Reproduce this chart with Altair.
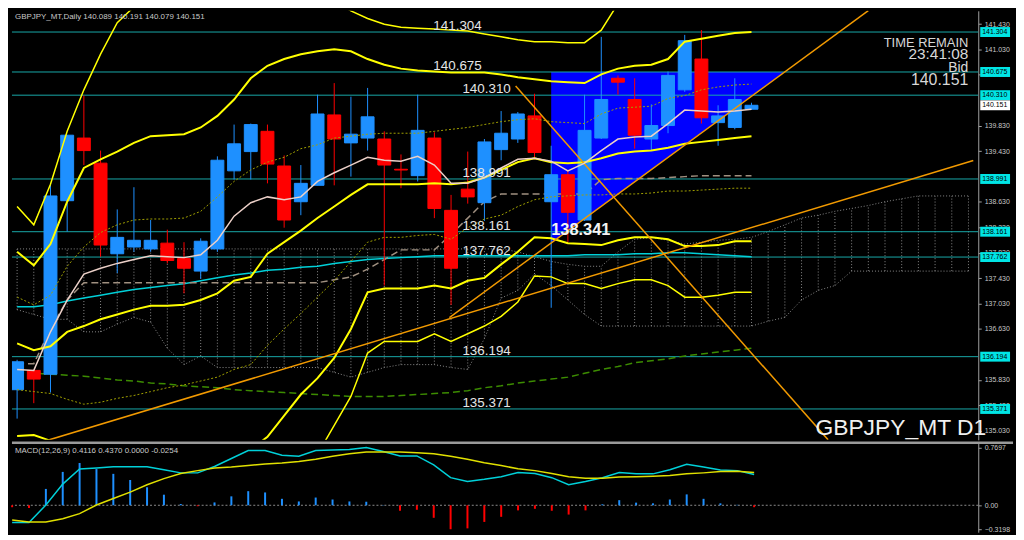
import altair as alt
import pandas as pd

W = 973
H1 = 432
H2 = 90
LBL = "Liberation Sans"

# ---------------- candles (daily GBPJPY) ----------------
opens = [135.674, 135.978, 135.917, 138.649, 139.635, 139.240, 137.814, 137.920, 137.890, 137.981,
         137.738, 137.541, 137.890, 139.119, 139.422, 139.741, 139.195, 138.633, 138.891, 139.999,
         139.559, 139.635, 139.620, 139.144, 139.043, 139.635, 138.497, 138.831, 138.618, 139.453,
         139.620, 139.984, 138.633, 139.058, 138.345, 139.635, 140.576, 140.242, 139.620, 139.832,
         140.394, 140.879, 139.878, 139.802, 140.089]
highs = [136.145, 135.978, 138.907, 139.680, 140.303, 139.438, 138.512, 138.861, 138.345, 138.193,
         137.996, 138.057, 139.347, 139.847, 139.863, 139.847, 139.362, 139.210, 140.318, 140.500,
         140.287, 140.424, 139.741, 139.377, 140.318, 139.726, 138.740, 139.422, 139.620, 140.060,
         140.045, 140.333, 139.514, 139.134, 140.318, 141.228, 140.621, 140.576, 140.166, 140.682,
         141.259, 141.335, 140.151, 140.576, 140.191]
lows = [135.219, 135.462, 135.629, 138.163, 139.210, 137.768, 137.510, 137.844, 137.844, 137.662,
        137.192, 137.419, 137.844, 138.982, 138.982, 138.922, 138.224, 138.421, 138.891, 138.891,
        139.028, 139.438, 137.313, 138.846, 138.952, 138.375, 137.010, 138.603, 138.330, 139.286,
        139.559, 139.331, 136.964, 137.996, 138.330, 139.620, 140.318, 139.468, 139.438, 139.711,
        140.363, 139.863, 139.514, 139.772, 140.079]
closes = [136.114, 135.841, 138.724, 139.680, 139.438, 137.951, 138.072, 138.026, 138.026, 137.708,
          137.586, 138.011, 139.286, 139.544, 139.847, 139.225, 138.345, 138.922, 140.014, 139.620,
          139.696, 139.969, 139.210, 139.132, 139.756, 138.527, 137.586, 138.709, 139.574, 139.711,
          140.014, 139.407, 139.058, 138.466, 139.756, 140.242, 140.515, 139.680, 139.832, 140.621,
          141.168, 139.954, 139.984, 140.242, 140.151]

# ---------------- Bollinger bands ----------------
bb_mid = [136.403, 136.297, 136.357, 136.584, 136.676, 136.782, 136.858, 136.934, 136.995, 136.995,
          137.010, 137.086, 137.191, 137.389, 137.450, 137.814, 137.996, 138.178, 138.376, 138.557,
          138.740, 138.907, 138.907, 138.907, 138.907, 138.922, 138.907, 138.937, 139.012, 139.134,
          139.256, 139.316, 139.256, 139.240, 139.256, 139.316, 139.392, 139.423, 139.438, 139.483,
          139.544, 139.575, 139.605, 139.635, 139.665]
bb_up1 = [137.132, 137.010, 137.162, 137.617, 137.920, 138.148, 138.270, 138.345, 138.361, 138.361,
          138.376, 138.482, 138.710, 138.953, 139.134, 139.256, 139.332, 139.468, 139.529, 139.635,
          139.665, 139.695, 139.711, 139.711, 139.711, 139.741, 139.772, 139.802, 139.848, 139.893,
          139.924, 139.939, 139.893, 139.878, 139.863, 140.015, 140.106, 140.121, 140.136, 140.258,
          140.303, 140.394, 140.440, 140.470, 140.485]
bb_dn1 = [135.674, 135.644, 135.614, 135.522, 135.446, 135.477, 135.538, 135.583, 135.644, 135.705,
          135.750, 135.811, 135.872, 135.993, 136.069, 136.373, 136.630, 136.873, 137.132, 137.389,
          137.693, 137.996, 138.072, 138.072, 138.102, 138.118, 138.042, 138.224, 138.361, 138.421,
          138.557, 138.664, 138.710, 138.725, 138.740, 138.740, 138.755, 138.755, 138.770, 138.801,
          138.801, 138.816, 138.831, 138.846, 138.846]
bb_up2 = [137.844, 137.632, 137.966, 138.633, 139.164, 139.301, 139.423, 139.560, 139.665, 139.680,
          139.695, 139.802, 139.984, 140.242, 140.576, 140.773, 140.879, 140.955, 141.001, 141.031,
          141.001, 140.879, 140.788, 140.728, 140.698, 140.682, 140.667, 140.667, 140.667, 140.637,
          140.591, 140.561, 140.530, 140.515, 140.500, 140.637, 140.728, 140.773, 140.788, 140.879,
          141.152, 141.198, 141.244, 141.289, 141.304]
bb_dn2 = [134.946, 134.961, 134.870, 134.582, 134.354, 134.202, 134.202, 134.233, 134.294, 134.415,
          134.491, 134.536, 134.567, 134.628, 134.734, 134.931, 135.265, 135.598, 135.856, 136.175,
          136.630, 137.207, 137.268, 137.268, 137.268, 137.313, 137.268, 137.389, 137.434, 137.647,
          137.844, 138.072, 138.057, 137.981, 137.966, 137.950, 138.026, 138.072, 138.072, 138.042,
          137.935, 137.935, 137.950, 138.011, 138.011]
bb_up3 = [138.557, 138.269, 138.907, 139.741, 140.394, 140.955, 141.450, 141.700, 141.714, 141.714,
          141.714, 141.866, 142.093, 142.245, 142.245, 142.169, 142.093, 142.048, 141.911, 141.790,
          141.638, 141.517, 141.426, 141.380, 141.365, 141.350, 141.334, 141.319, 141.274, 141.228,
          141.183, 141.152, 141.152, 141.137, 141.137, 141.334, 141.750, 141.800, 141.850, 141.905,
          141.920, 142.033, 142.108, 142.139, 142.124]
bb_dn3 = [134.217, 134.339, 134.127, 133.595, 133.292, 133.140, 133.140, 133.140, 133.216, 133.292,
          133.368, 133.444, 133.444, 133.520, 133.625, 133.777, 134.127, 134.384, 134.658, 135.113,
          135.568, 136.251, 136.433, 136.433, 136.433, 136.554, 136.433, 136.554, 136.676, 136.828,
          137.055, 137.465, 137.450, 137.344, 137.344, 137.268, 137.344, 137.404, 137.404, 137.313,
          137.131, 137.131, 137.162, 137.207, 137.207]

# ---------------- moving averages ----------------
ma_fast = [135.993, 135.978, 136.585, 137.085, 137.495, 137.586, 137.662, 137.723, 137.784, 137.768,
           137.753, 137.799, 138.026, 138.406, 138.618, 138.709, 138.664, 138.709, 138.952, 139.089,
           139.210, 139.331, 139.286, 139.271, 139.347, 139.210, 138.922, 138.922, 139.013, 139.164,
           139.301, 139.316, 139.271, 139.119, 139.240, 139.438, 139.620, 139.650, 139.665, 139.863,
           140.075, 140.060, 140.045, 140.060, 140.090]
ma_mid = [136.979, 136.979, 137.010, 137.070, 137.116, 137.161, 137.207, 137.252, 137.283, 137.313,
          137.343, 137.389, 137.435, 137.480, 137.510, 137.556, 137.571, 137.602, 137.617, 137.662,
          137.692, 137.723, 137.738, 137.753, 137.768, 137.784, 137.784, 137.784, 137.784, 137.784,
          137.784, 137.784, 137.784, 137.784, 137.799, 137.799, 137.799, 137.814, 137.814, 137.829,
          137.829, 137.814, 137.799, 137.784, 137.768]
ma_long = [135.947, 135.932, 135.917, 135.902, 135.887, 135.856, 135.826, 135.811, 135.780, 135.765,
           135.735, 135.720, 135.705, 135.674, 135.659, 135.644, 135.629, 135.614, 135.598, 135.583,
           135.568, 135.568, 135.568, 135.583, 135.598, 135.614, 135.629, 135.659, 135.705, 135.735,
           135.780, 135.811, 135.841, 135.872, 135.932, 135.993, 136.038, 136.099, 136.130, 136.160,
           136.205, 136.236, 136.266, 136.296, 136.327]
kijun = [136.084, 136.084, 136.630, 137.085, 137.359, 137.359, 137.359, 137.359, 137.359, 137.359,
         137.359, 137.359, 137.359, 137.359, 137.359, 137.359, 137.359, 137.359, 137.359, 137.404,
         137.450, 137.571, 137.723, 137.875, 137.875, 137.875, 138.117, 138.375, 138.633, 138.755,
         138.755, 138.755, 138.755, 138.755, 138.755, 138.982, 138.998, 138.998, 138.998, 139.013,
         139.028, 139.043, 139.043, 139.043, 139.043]

# ---------------- Ichimoku cloud (runs 13 bars ahead of the last candle) ----------------
span_a = [136.934, 136.858, 136.782, 136.782, 136.585, 136.585, 136.706, 136.812, 136.737, 136.327,
          136.069, 136.205, 136.023, 136.023, 136.023, 136.023, 136.023, 136.023, 136.023, 135.947,
          135.872, 135.947, 136.023, 136.069, 136.069, 136.069, 136.023, 135.993, 136.479, 137.116,
          137.237, 137.495, 137.313, 137.086, 136.858, 136.676, 136.676, 136.676, 136.676, 136.676,
          136.676, 136.676, 136.676, 136.676, 136.676, 136.752, 136.812, 137.086, 137.237, 137.313,
          137.541, 137.541, 137.541, 137.541, 137.541, 137.541, 137.541, 137.541]
span_b = [137.890, 137.890, 137.890, 137.890, 137.890, 137.890, 137.890, 137.890, 137.890, 137.890,
          137.890, 137.890, 137.890, 137.890, 137.890, 137.890, 137.890, 137.890, 137.890, 137.890,
          137.890, 137.890, 137.890, 137.890, 137.890, 137.890, 137.890, 137.890, 137.890, 137.890,
          137.844, 137.768, 137.693, 137.647, 137.617, 137.617, 137.844, 138.042, 138.072, 138.026,
          137.966, 137.996, 138.026, 138.042, 138.072, 138.163, 138.269, 138.376, 138.421, 138.482,
          138.527, 138.573, 138.633, 138.679, 138.724, 138.724, 138.724, 138.724]

# ---------------- MACD(12,26,9) ----------------
macd_main = [-0.231, -0.231, 0.004, 0.282, 0.483, 0.496, 0.513, 0.513, 0.513, 0.474,
             0.432, 0.432, 0.517, 0.624, 0.731, 0.731, 0.667, 0.654, 0.731, 0.737,
             0.744, 0.7697, 0.718, 0.658, 0.658, 0.538, 0.368, 0.317, 0.346, 0.381,
             0.436, 0.423, 0.368, 0.273, 0.317, 0.368, 0.436, 0.419, 0.419, 0.474,
             0.547, 0.509, 0.471, 0.462, 0.4116]
macd_signal = [-0.196, -0.222, -0.222, -0.179, -0.112, 0.004, 0.090, 0.176, 0.273, 0.355,
               0.423, 0.462, 0.496, 0.509, 0.529, 0.551, 0.564, 0.583, 0.615, 0.654,
               0.686, 0.709, 0.709, 0.709, 0.701, 0.688, 0.654, 0.615, 0.568, 0.529,
               0.487, 0.462, 0.423, 0.381, 0.359, 0.359, 0.376, 0.381, 0.388, 0.397,
               0.419, 0.432, 0.449, 0.453, 0.4370]
macd_hist = [-0.026, -0.038, 0.218, 0.445, 0.564, 0.483, 0.419, 0.337, 0.240, 0.141,
             0.017, -0.013, 0.038, 0.119, 0.188, 0.171, 0.086, 0.051, 0.103, 0.077,
             0.051, 0.047, 0.004, -0.073, -0.060, -0.167, -0.3198, -0.308, -0.222, -0.154,
             -0.068, -0.047, -0.073, -0.124, -0.068, 0.013, 0.068, 0.035, 0.026, 0.077,
             0.145, 0.086, 0.026, 0.006, -0.0254]

# ---------------- levels, drawings, ticks ----------------
levels = [141.304, 140.675, 140.310, 138.991, 138.161, 137.762, 136.194, 135.371]
bid = 140.151
triangle_x = [32.0, 46.0]
triangle_top = [140.675, 140.675]
triangle_bottom = [137.98, 140.675]
trend_names = ["up", "up", "base", "base", "down", "down"]
trend_x = [25.9, 51.0, 1.93, 57.29, 29.87, 48.59]
trend_y = [136.81, 141.64, 134.885, 139.281, 140.454, 134.885]
low_mark_x = [32.0]
low_mark_y = [138.19]
low_mark_text = ["138.341"]
# tick labels that are not fully hidden behind the level tags
price_ticks = [135.030, 135.430, 135.830, 136.630, 137.030, 137.430, 137.830, 138.230,
               138.630, 139.430, 139.830, 140.630, 141.030, 141.430]
macd_ticks = [-0.3198, 0.0, 0.7697]

# ---------------- frames ----------------
n = len(opens)
idx = list(range(n))
cdf = pd.DataFrame({"i": idx, "open": opens, "high": highs, "low": lows, "close": closes})
cdf["dir"] = ["up" if c >= o else "down" for o, c in zip(opens, closes)]
ind = pd.DataFrame({"i": idx, "mid": bb_mid, "up1": bb_up1, "dn1": bb_dn1, "up2": bb_up2,
                    "dn2": bb_dn2, "up3": bb_up3, "dn3": bb_dn3, "fast": ma_fast,
                    "ma": ma_mid, "long": ma_long, "kijun": kijun})
cloud = pd.DataFrame({"i": list(range(len(span_a))), "a": span_a, "b": span_b})
lvl = pd.DataFrame({"level": levels, "text": [f"{v:.3f}" for v in levels]})
lvl["lx"] = [24.94 if v > 140.5 else 26.68 for v in levels]
tri = pd.DataFrame({"x": triangle_x, "top": triangle_top, "bot": triangle_bottom})
trends = pd.DataFrame({"g": trend_names, "x": trend_x, "y": trend_y})
lowmark = pd.DataFrame({"x": low_mark_x, "y": low_mark_y, "t": low_mark_text})
bid_df = pd.DataFrame({"level": [bid], "text": [f"{bid:.3f}"]})
mdf = pd.DataFrame({"i": idx, "main": macd_main, "signal": macd_signal, "hist": macd_hist})
mdf["sign"] = ["pos" if h >= 0 else "neg" for h in macd_hist]

xs = alt.Scale(domain=[-0.01, 57.29], nice=False, zero=False)
ys = alt.Scale(domain=[134.885, 141.638], nice=False, zero=False)
ms = alt.Scale(domain=[-0.359, 0.833], nice=False, zero=False)

yaxis = alt.Axis(orient="right", values=price_ticks, format=".3f", title=None, grid=False,
                 labelColor="#c8c8c8", labelFont=LBL, labelFontSize=7, tickColor="#a0a0a0",
                 tickSize=3, domainColor="#a0a0a0", labelPadding=3, labelOverlap=False,
                 labelFlush=False)
maxis = alt.Axis(orient="right", values=macd_ticks, title=None, grid=False,
                 labelExpr="datum.value == 0 ? '0.00' : format(datum.value, '.4f')",
                 labelColor="#c8c8c8", labelFont=LBL, labelFontSize=7, tickColor="#a0a0a0",
                 tickSize=3, domainColor="#a0a0a0", labelPadding=3, labelOverlap=False,
                 labelFlush=False)


def X(f):
    return alt.X(f"{f}:Q", scale=xs, axis=None)


def Y(f):
    return alt.Y(f"{f}:Q", scale=ys, axis=yaxis)


def ind_line(field, color, width, dash=None):
    kw = dict(color=color, strokeWidth=width, clip=True)
    if dash:
        kw["strokeDash"] = dash
    return alt.Chart(ind).mark_line(**kw).encode(x=X("i"), y=Y(field))


def note(txt, x, y, size, align="right", color="#d8d8d8", weight="normal"):
    return alt.Chart(pd.DataFrame({"t": [txt]})).mark_text(
        align=align, baseline="middle", fontSize=size, color=color, font=LBL,
        fontWeight=weight).encode(x=alt.value(x), y=alt.value(y), text="t:N")


cscale = alt.Scale(domain=["up", "down"], range=["#1e90ff", "#ff0000"])

triangle = alt.Chart(tri).mark_area(color="#0000ff", opacity=1).encode(
    x=X("x"), y=Y("top"), y2="bot")
hatch = alt.Chart(cloud).mark_rule(color="#8a8a8a", strokeDash=[1, 2], strokeWidth=1).encode(
    x=X("i"), y=Y("a"), y2="b")
cloud_a = alt.Chart(cloud).mark_line(color="#8a8a8a", strokeDash=[1, 2], strokeWidth=1).encode(
    x=X("i"), y=Y("a"))
cloud_b = alt.Chart(cloud).mark_line(color="#8a8a8a", strokeDash=[1, 2], strokeWidth=1).encode(
    x=X("i"), y=Y("b"))
level_rules = alt.Chart(lvl).mark_rule(color="#18a8a8", strokeWidth=1).encode(y=Y("level"))

wicks = alt.Chart(cdf).mark_rule(strokeWidth=1, clip=True).encode(
    x=X("i"), y=Y("low"), y2="high", color=alt.Color("dir:N", scale=cscale, legend=None))
bodies = alt.Chart(cdf).mark_bar(size=13, strokeWidth=1, clip=True).encode(
    x=X("i"), y=Y("open"), y2="close",
    color=alt.Color("dir:N", scale=cscale, legend=None),
    stroke=alt.Stroke("dir:N", scale=cscale, legend=None))

trend_lines = alt.Chart(trends).mark_line(color="#f29a00", strokeWidth=1.5, clip=True).encode(
    x=X("x"), y=Y("y"), detail="g:N")

level_text = alt.Chart(lvl).mark_text(align="left", baseline="alphabetic", dy=-2, fontSize=13.5,
                                      color="#e6e6e6", font=LBL).encode(
    x=X("lx"), y=Y("level"), text="text:N")
low_text = alt.Chart(lowmark).mark_text(align="left", baseline="middle", fontSize=16.5,
                                        fontWeight="bold", color="#f4f4f4", font=LBL).encode(
    x=X("x"), y=Y("y"), text="t:N")

tag_bg = alt.Chart(lvl).mark_rule(color="#00e5e5", strokeWidth=10).encode(
    y=Y("level"), x=alt.value(W + 2), x2=alt.value(W + 32))
tag_tx = alt.Chart(lvl).mark_text(align="left", baseline="middle", fontSize=7, color="#000000",
                                  font=LBL).encode(y=Y("level"), x=alt.value(W + 4), text="text:N")
bid_bg = alt.Chart(bid_df).mark_rule(color="#ffffff", strokeWidth=10).encode(
    y=Y("level"), x=alt.value(W + 2), x2=alt.value(W + 32))
bid_tx = alt.Chart(bid_df).mark_text(align="left", baseline="middle", fontSize=7, color="#000000",
                                     font=LBL).encode(y=Y("level"), x=alt.value(W + 4),
                                                      text="text:N")

main = alt.layer(
    triangle, hatch, cloud_a, cloud_b, level_rules,
    ind_line("long", "#3c8c00", 1.5, [7, 4]),
    ind_line("ma", "#00d0d8", 1.5),
    ind_line("kijun", "#a09080", 1.5, [7, 4]),
    wicks, bodies,
    ind_line("up1", "#a0a000", 1, [2, 2]),
    ind_line("dn1", "#a0a000", 1, [2, 2]),
    ind_line("mid", "#ffff00", 2),
    ind_line("up2", "#ffff00", 2),
    ind_line("dn2", "#ffff00", 2),
    ind_line("up3", "#ffff00", 1.5),
    ind_line("dn3", "#ffff00", 1.5),
    trend_lines,
    ind_line("fast", "#ecd0c8", 1.5),
    level_text, low_text,
    tag_bg, tag_tx, bid_bg, bid_tx,
    note("GBPJPY_MT,Daily  140.089 140.191 140.079 140.151", 3, 6, 8, align="left",
         color="#c8c8c8"),
    note("TIME REMAIN", 963, 32, 13),
    note("23:41:08", 963, 44, 15.5),
    note("Bid", 963, 58, 14),
    note("140.151", 963, 70, 16),
    note("GBPJPY_MT D1", 809, 420, 23, align="left", color="#f0f0f0"),
).properties(width=W, height=H1)


def MX(f):
    return alt.X(f"{f}:Q", scale=xs, axis=None)


zero_line = alt.Chart(pd.DataFrame({"z": [0.0]})).mark_rule(
    color="#8a8a8a", strokeDash=[2, 2], strokeWidth=1).encode(
    y=alt.Y("z:Q", scale=ms, axis=maxis))
hist = alt.Chart(mdf).mark_rule(strokeWidth=2).encode(
    x=MX("i"), y=alt.Y("hist:Q", scale=ms, axis=maxis), y2=alt.Y2(datum=0),
    color=alt.Color("sign:N", scale=alt.Scale(domain=["pos", "neg"],
                                              range=["#1e90ff", "#e00000"]), legend=None))
main_line = alt.Chart(mdf).mark_line(color="#00d0d8", strokeWidth=1.5).encode(
    x=MX("i"), y=alt.Y("main:Q", scale=ms, axis=maxis))
sig_line = alt.Chart(mdf).mark_line(color="#e0e000", strokeWidth=1.5).encode(
    x=MX("i"), y=alt.Y("signal:Q", scale=ms, axis=maxis))
separator = alt.Chart(pd.DataFrame({"s": [0]})).mark_rule(color="#9a9a9a", strokeWidth=2.5).encode(
    x=alt.value(0), x2=alt.value(W + 35), y=alt.value(0))

macd = alt.layer(
    zero_line, hist, main_line, sig_line, separator,
    note("MACD(12,26,9) 0.4116 0.4370 0.0000 -0.0254", 3, 8, 8, align="left", color="#c8c8c8"),
).properties(width=W, height=H2)

chart = alt.vconcat(main, macd, spacing=0).properties(
    background="#000000", padding=0
).configure_view(stroke="transparent", fill="#000000")

chart.save("out.html", embed_options={"renderer": "svg", "actions": False})
